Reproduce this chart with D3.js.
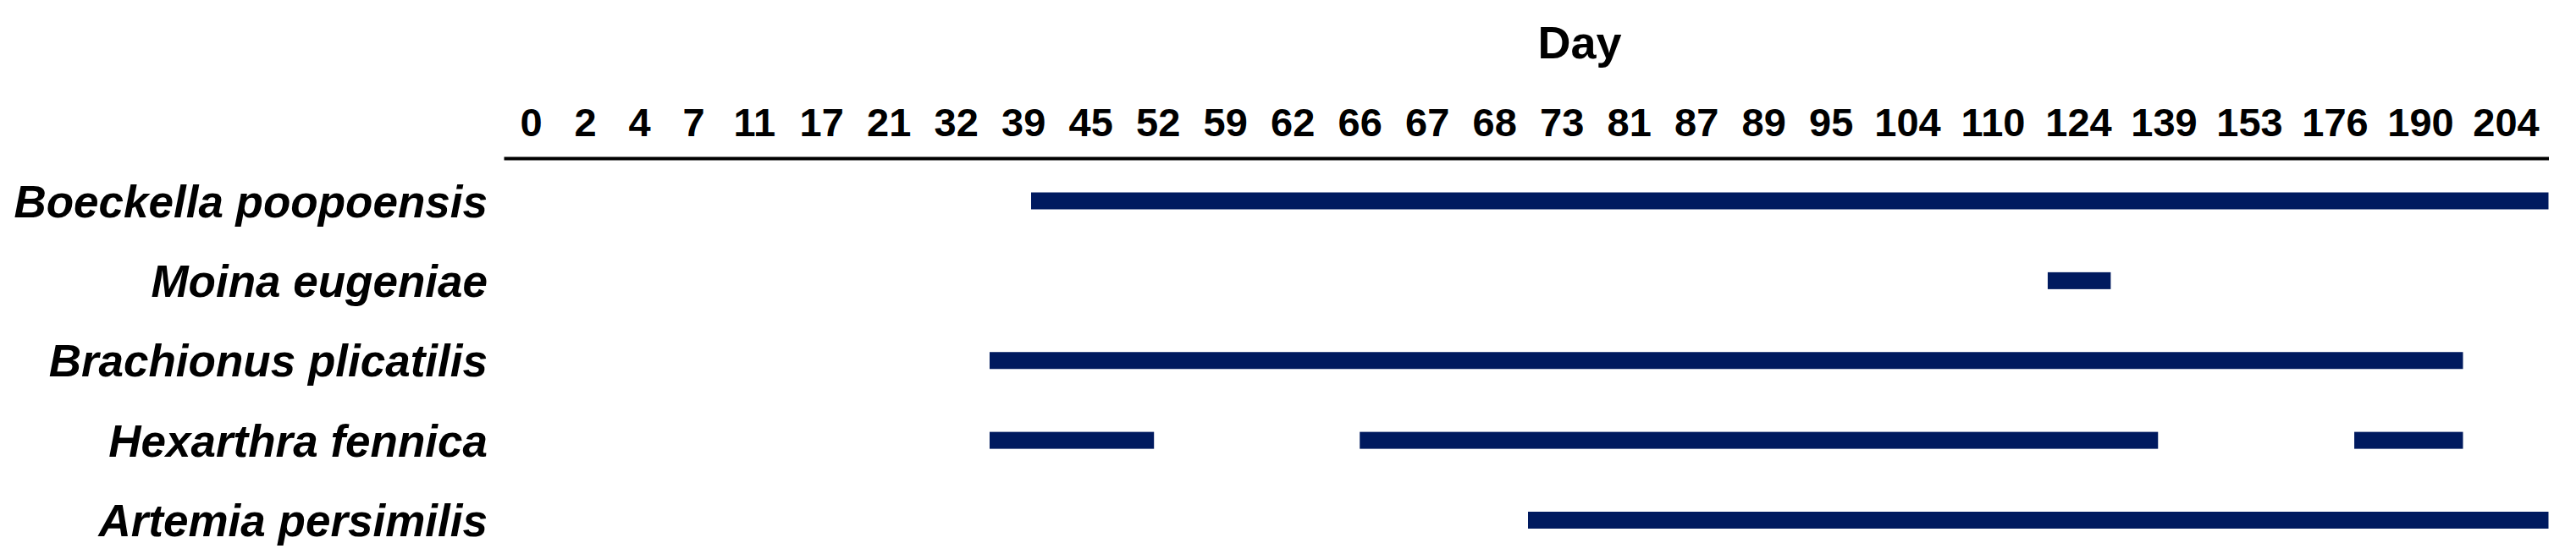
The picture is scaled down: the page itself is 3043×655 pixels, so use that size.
<!DOCTYPE html>
<html>
<head>
<meta charset="utf-8">
<script src="https://cdn.jsdelivr.net/npm/d3@7"></script>
<style>
  body { margin: 0; background: #fff; }
  text { font-family: "Liberation Sans", Arial, sans-serif; font-weight: bold; }
</style>
</head>
<body>
<div id="chart"></div>
<script>
// sampling days shown along the top axis
const days = [0, 2, 4, 7, 11, 17, 21, 32, 39, 45, 52, 59, 62, 66, 67, 68, 73, 81, 87, 89, 95, 104, 110, 124, 139, 153, 176, 190, 204];

const species = ["Boeckella poopoensis", "Moina eugeniae", "Brachionus plicatilis", "Hexarthra fennica", "Artemia persimilis"];

// presence periods [from, to] in days, null = still present at the end of the record
const boeckellaPeriods = [[39.7, null]];
const moinaPeriods = [[119, 129.7]];
const brachionusPeriods = [[35.5, 197]];
const hexarthraPeriods = [[35.5, 51.6], [66, 138], [179.2, 197]];
const artemiaPeriods = [[70.5, null]];

const periodsBySpecies = [boeckellaPeriods, moinaPeriods, brachionusPeriods, hexarthraPeriods, artemiaPeriods];

const width = 3043;
const height = 655;
const axisLeft = 595;
const axisY = 187;
const barColor = "#001a5f";

// the day columns are wider for longer labels, like cells in a table
const colWidth = (d) => ({ 1: 64, 2: 79.5, 3: 101 })[String(d).length];

let acc = axisLeft;
const centers = days.map((d) => {
  const c = acc + colWidth(d) / 2;
  acc += colWidth(d);
  return c;
});
const axisRight = acc;

const n = days.length;
const dayStart = days[0] - (days[1] - days[0]) / 2;
const dayEnd = days[n - 1] + (days[n - 1] - days[n - 2]) / 2;

const x = d3
  .scaleLinear()
  .domain([dayStart, ...days, dayEnd])
  .range([axisLeft, ...centers, axisRight]);

const y = d3.scalePoint().domain(species).range([237.5, 615]);

const svg = d3
  .select("#chart")
  .append("svg")
  .attr("width", width)
  .attr("height", height);

svg.append("rect").attr("width", width).attr("height", height).attr("fill", "#fff");

// title
svg
  .append("text")
  .attr("x", 1866)
  .attr("y", 69)
  .attr("text-anchor", "middle")
  .style("font-size", "54px")
  .text("Day");

// top axis with the day labels
const axis = svg
  .append("g")
  .attr("transform", `translate(0,${axisY})`)
  .call(
    d3.axisTop(x).tickValues(days).tickSize(0).tickSizeOuter(0).tickPadding(26).tickFormat(d3.format("d"))
  );

axis.select(".domain").attr("stroke", "#000").attr("stroke-width", 4);
axis
  .selectAll("text")
  .attr("fill", "#000")
  .style("font-size", "47px");

// species names
svg
  .selectAll("text.species")
  .data(species)
  .join("text")
  .attr("class", "species")
  .attr("x", 576)
  .attr("y", (d) => y(d) + 19)
  .attr("text-anchor", "end")
  .style("font-size", "53px")
  .style("font-style", "italic")
  .text((d) => d);

// presence bars
const segments = [];
species.forEach((s, i) => {
  periodsBySpecies[i].forEach(([from, to]) => {
    segments.push({ species: s, from: from, to: to === null ? dayEnd : to });
  });
});

svg
  .selectAll("rect.bar")
  .data(segments)
  .join("rect")
  .attr("class", "bar")
  .attr("x", (d) => x(d.from))
  .attr("y", (d) => y(d.species) - 10)
  .attr("width", (d) => x(d.to) - x(d.from))
  .attr("height", 20)
  .attr("fill", barColor);
</script>
</body>
</html>
